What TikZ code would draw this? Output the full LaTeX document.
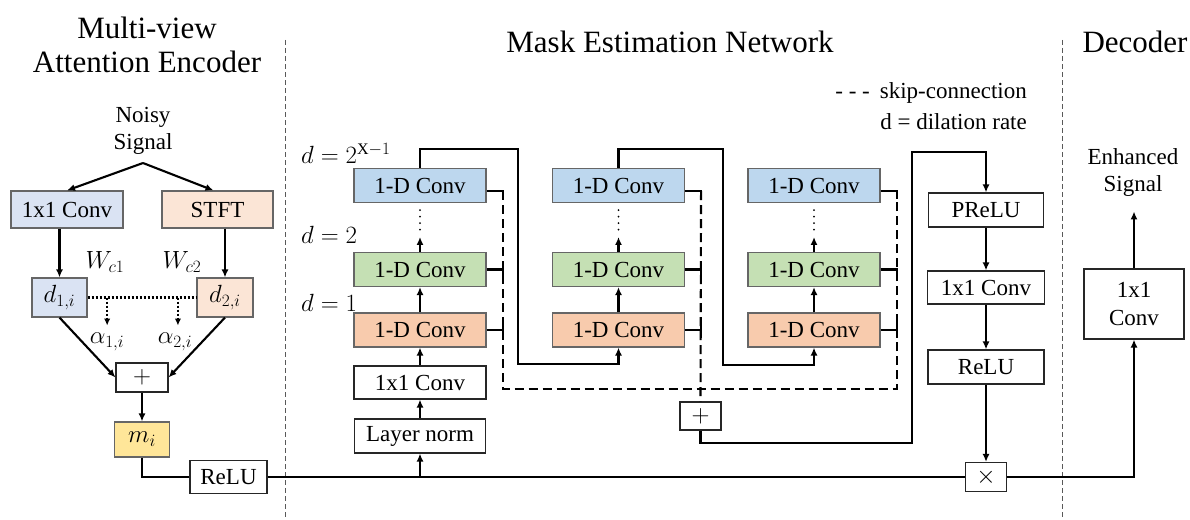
\documentclass[tikz,border=0pt]{standalone}
\usepackage{fontspec}
\setmainfont{Liberation Serif}
\usetikzlibrary{arrows.meta,calc}
\definecolor{encblue}{HTML}{DAE3F3}
\definecolor{encorange}{HTML}{FBE5D6}
\definecolor{miyellow}{HTML}{FFE699}
\definecolor{convblue}{HTML}{BDD7EE}
\definecolor{convgreen}{HTML}{C5E0B4}
\definecolor{convorange}{HTML}{F8CBAD}
\newcommand{\fsn}{\fontsize{23}{27}\selectfont}
\newcommand{\fst}{\fontsize{31}{34}\selectfont}
\begin{document}
\begin{tikzpicture}[x=1pt,y=-1pt,
  box/.style={draw=black!85, line width=1.1pt, inner sep=0pt, align=center, font=\fsn, fill=white},
  cbox/.style={box, draw=black!60},
  sz/.style 2 args={minimum width=#1pt, minimum height=#2pt},
  lbl/.style={inner sep=0pt, font=\fsn, align=center},
  ttl/.style={inner sep=0pt, font=\fst, align=center},
  conn/.style={line width=2.1pt},
  arr/.style={conn, -{Latex[length=8pt,width=7pt]}},
  dsh/.style={line width=2.1pt, dash pattern=on 9pt off 5pt},
  dott/.style={line width=2.1pt, dash pattern=on 2pt off 2pt},
  dotarr/.style={dott, -{Latex[length=7pt,width=6.5pt]}},
  vdots/.style={line width=2pt, dash pattern=on 0pt off 6.5pt, line cap=round},
  divider/.style={line width=0.7pt, draw=black!65, dash pattern=on 5pt off 3pt},
]
\useasboundingbox (0,0) rectangle (1190,519);

% ---------- titles and dividers ----------
\node[ttl] (t1) at (147,45) {Multi-view\\Attention Encoder};
\node[ttl] (t2) at (670,42) {Mask Estimation Network};
\node[ttl] (t3) at (1135,42) {Decoder};
\draw[divider] (285,40) -- (285,519);
\draw[divider] (1062,40) -- (1062,519);

% ---------- legend ----------
\node[lbl, anchor=east] (lg1) at (1027,93) {- - -\hspace{10pt}skip-connection};
\node[lbl, anchor=east] (lg2) at (1027,122) {d = dilation rate};

% ---------- encoder ----------
\node[lbl] (noisy) at (143,131) {Noisy\\Signal};
\coordinate (apex) at (143,163);
\node[cbox, fill=encblue, sz={112}{37}] (c1) at (67,209.5) {1x1 Conv};
\node[cbox, fill=encorange, sz={111}{37}] (stft) at (217.5,209.5) {STFT};
\node[lbl] (w1) at (105,262) {$W_{c1}$};
\node[lbl] (w2) at (182,262) {$W_{c2}$};
\node[cbox, fill=encblue, sz={55}{39}] (d1) at (59.5,297.5) {$d_{1,i}$};
\node[cbox, fill=encorange, sz={56}{39}] (d2) at (225,297.5) {$d_{2,i}$};
\node[lbl] (al1) at (107,342) {$\alpha_{1,i}$};
\node[lbl] (al2) at (175,342) {$\alpha_{2,i}$};
\node[box, sz={52}{29}] (p1) at (142,377.5) {$+$};
\node[cbox, fill=miyellow, sz={55}{35}] (mi) at (142,439.5) {$m_i$};
\node[box, sz={77}{33}] (relu1) at (228.5,477) {ReLU};

% ---------- mask estimation network ----------
\node[cbox, fill=convblue,   sz={132}{34}] (b1t) at (420,185.5) {1-D Conv};
\node[cbox, fill=convgreen,  sz={132}{34}] (b1g) at (420,269.5) {1-D Conv};
\node[cbox, fill=convorange, sz={132}{34}] (b1o) at (420,330) {1-D Conv};
\node[box, sz={132}{33}] (b1c) at (420,382.5) {1x1 Conv};
\node[box, sz={131}{34}] (ln) at (420,436) {Layer norm};

\node[cbox, fill=convblue,   sz={132}{34}] (b2t) at (618.5,185.5) {1-D Conv};
\node[cbox, fill=convgreen,  sz={132}{34}] (b2g) at (618.5,269.5) {1-D Conv};
\node[cbox, fill=convorange, sz={132}{34}] (b2o) at (618.5,330) {1-D Conv};

\node[cbox, fill=convblue,   sz={132}{34}] (b3t) at (814,185.5) {1-D Conv};
\node[cbox, fill=convgreen,  sz={132}{34}] (b3g) at (814,269.5) {1-D Conv};
\node[cbox, fill=convorange, sz={132}{34}] (b3o) at (814,330) {1-D Conv};

\node[lbl, anchor=west] (dl3) at (301,153) {$d=2^{\mathrm{X}-1}$};
\node[lbl, anchor=west] (dl2) at (301,235) {$d=2$};
\node[lbl, anchor=west] (dl1) at (301,303) {$d=1$};

\node[box, sz={41}{28}] (p2) at (700.5,416) {$+$};

% ---------- right column and decoder ----------
\node[box, sz={115}{34}] (prelu) at (986,210) {PReLU};
\node[box, sz={117}{33}] (r2c) at (986,287.5) {1x1 Conv};
\node[box, sz={116}{34}] (r2r) at (986,367) {ReLU};
\node[box, sz={41}{29}] (mul) at (986,477) {$\times$};
\node[box, sz={100}{70}, font=\fontsize{23}{28}\selectfont] (dec) at (1134,304) {1x1\\Conv};
\node[lbl] (enh) at (1133,173) {Enhanced\\Signal};

% ---------- encoder connectors ----------
\draw[arr] (apex) -- (c1.north);
\draw[arr] (apex) -- ($(stft.north)+(-4,0)$);
\draw[arr] (c1.south -| d1.north) -- (d1.north);
\draw[arr] (stft.south -| d2.north) -- (d2.north);
\draw[dott] (d1.east) -- (d2.west);
\coordinate (a1) at ($(d1.east)!0.18!(d2.west)$);
\coordinate (a2) at ($(d1.east)!0.83!(d2.west)$);
\draw[dotarr] (a1) -- ++(0,28);
\draw[dotarr] (a2) -- ++(0,28);
\draw[arr] (d1.south) -- (p1.west);
\draw[arr] (d2.south) -- (p1.east);
\draw[arr] (p1.south) -- (mi.north);
\draw[conn] (mi.south) |- (relu1.west);
\draw[conn] (relu1.east) -- (mul.west);

% ---------- block 1 ----------
\draw[arr] (ln.south |- relu1.east) -- (ln.south);
\draw[arr] (ln.north) -- (b1c.south);
\draw[arr] (b1c.north) -- (b1o.south);
\draw[arr] (b1o.north) -- (b1g.south);
\draw[arr] (b1g.north) -- ++(0,-15);
\draw[vdots] ($(b1t.south)+(0,7)$) -- ($(b1t.south)+(0,28)$);
% ---------- block 2 ----------
\draw[arr] (b2o.north) -- (b2g.south);
\draw[arr] (b2g.north) -- ++(0,-15);
\draw[vdots] ($(b2t.south)+(0,7)$) -- ($(b2t.south)+(0,28)$);
% ---------- block 3 ----------
\draw[arr] (b3o.north) -- (b3g.south);
\draw[arr] (b3g.north) -- ++(0,-15);
\draw[vdots] ($(b3t.south)+(0,7)$) -- ($(b3t.south)+(0,28)$);

% block to block
\draw[arr] (b1t.north) -- ++(0,-19) -| (518,364) -| (b2o.south);
\draw[arr] (b2t.north) -- ++(0,-19) -| (723,365) -| (b3o.south);

% skip stubs
\foreach \b in {b1,b2,b3}{
  \draw[conn] ([yshift=-5.5pt]\b t.east) -- ++(16,0) -- ++(0,8);
  \draw[conn] (\b g.east) -- ++(16,0) -- ++(0,8);
  \draw[conn] (\b o.east) -- ++(16,0);
  \draw[conn] ($(\b o.east)+(16,-8)$) -- ++(0,16);
}
\coordinate (s1) at ($(b1t.east)+(16,5.5)$);
\coordinate (s2) at ($(b2t.east)+(16,5.5)$);
\coordinate (s3) at ($(b3t.east)+(16,5.5)$);
\coordinate (hb) at (0,389);
\draw[dsh] (s1) -- (s1 |- hb) -- (s3 |- hb) -- (s3);
\draw[dsh] (s2) -- (p2.north);

% output of mask network
\draw[arr] (p2.south) -- ++(0,12) -| (912,152) -| (prelu.north);
\draw[arr] (prelu.south) -- (r2c.north);
\draw[arr] (r2c.south) -- (r2r.north);
\draw[arr] (r2r.south) -- (mul.north);
\draw[arr] (mul.east) -| (dec.south);
\draw[arr] (dec.north) -- ++(0,-57);
\end{tikzpicture}
\end{document}
